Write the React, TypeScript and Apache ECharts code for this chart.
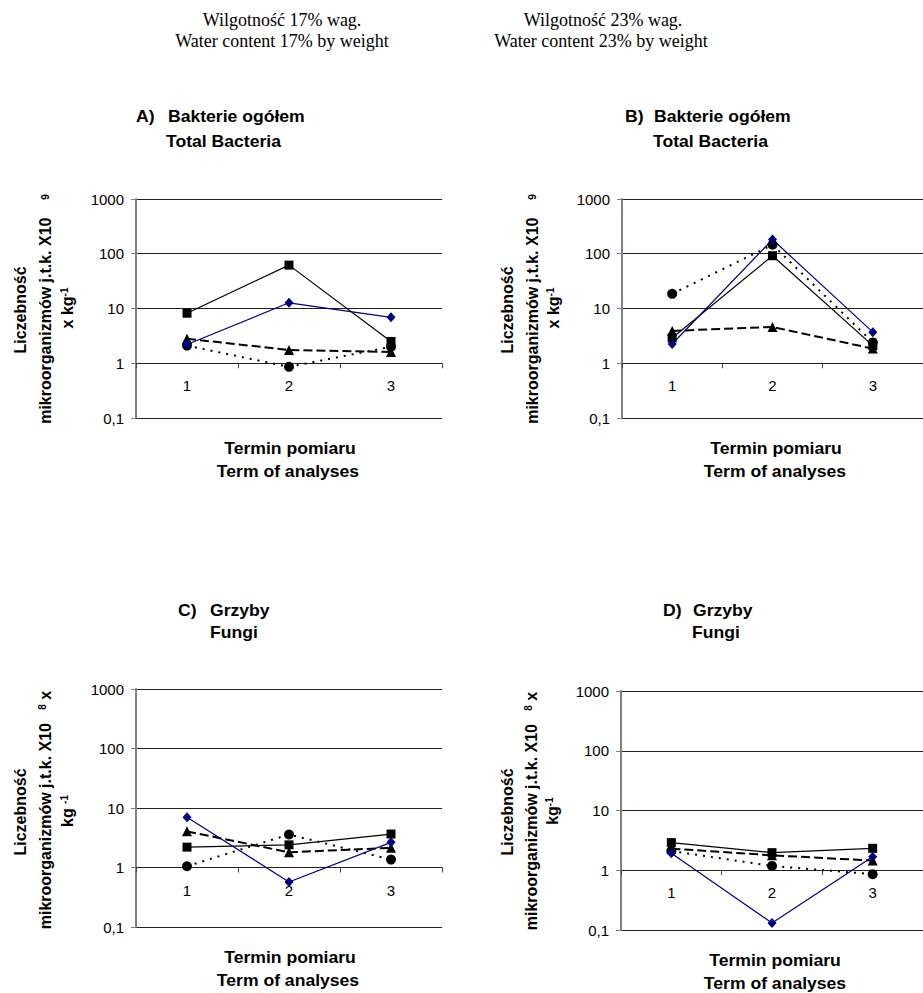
import React, { useEffect, useRef } from 'react';
import * as echarts from 'echarts';

// Terms of analysis
const categories = ['1', '2', '3'];

// A) Total bacteria, water content 17%
const aSquare = [8.2, 62, 2.5];
const aDiamond = [2.2, 12.7, 6.9];
const aTriangle = [2.8, 1.75, 1.6];
const aCircle = [2.1, 0.86, 2.0];

// B) Total bacteria, water content 23%
const bSquare = [2.9, 92, 2.1];
const bDiamond = [2.25, 182, 3.7];
const bTriangle = [3.9, 4.6, 1.85];
const bCircle = [18.5, 146, 2.4];

// C) Fungi, water content 17%
const cSquare = [2.2, 2.4, 3.65];
const cDiamond = [7.0, 0.57, 2.65];
const cTriangle = [4.05, 1.8, 2.14];
const cCircle = [1.05, 3.58, 1.36];

// D) Fungi, water content 23%
const dSquare = [2.9, 1.97, 2.33];
const dDiamond = [1.92, 0.131, 1.69];
const dTriangle = [2.3, 1.78, 1.45];
const dCircle = [2.1, 1.18, 0.86];

const sans = '"Liberation Sans", Arial, Helvetica, sans-serif';
const serif = '"Liberation Serif", "Times New Roman", serif';

const grids = [
  { left: 136, top: 199, width: 306, height: 219 },
  { left: 622, top: 199, width: 306, height: 219 },
  { left: 136, top: 689, width: 306, height: 238 },
  { left: 621, top: 691, width: 306, height: 239 },
];

function makeSeries(i: number, sq: number[], di: number[], tr: number[], ci: number[]) {
  const base = { type: 'line', xAxisIndex: i, yAxisIndex: i, showSymbol: true, z: 3 };
  return [
    {
      ...base,
      name: 'circle',
      data: ci,
      symbol: 'circle',
      symbolSize: 10,
      itemStyle: { color: '#000' },
      lineStyle: { color: '#000', width: 2, type: [2, 6] },
    },
    {
      ...base,
      name: 'triangle',
      data: tr,
      symbol: 'triangle',
      symbolSize: 10,
      itemStyle: { color: '#000' },
      lineStyle: { color: '#000', width: 2, type: [9, 4] },
    },
    {
      ...base,
      name: 'square',
      data: sq,
      symbol: 'rect',
      symbolSize: 9,
      itemStyle: { color: '#000' },
      lineStyle: { color: '#000', width: 1.2, type: 'solid' },
    },
    {
      ...base,
      name: 'diamond',
      data: di,
      symbol: 'diamond',
      symbolSize: [9, 10],
      itemStyle: { color: '#000080' },
      lineStyle: { color: '#000080', width: 1.2, type: 'solid' },
    },
  ];
}

function htext(x: number, y: number, text: string, align: string = 'left', fontSize = 16) {
  return {
    type: 'text',
    x,
    y,
    scaleX: 1.1,
    style: {
      text,
      fontSize,
      fontWeight: 'bold',
      fontFamily: sans,
      fill: '#000',
      align,
      verticalAlign: 'middle',
    },
  };
}

function vtext(x: number, y: number, text: string) {
  return {
    type: 'text',
    x,
    y,
    rotation: Math.PI / 2,
    style: {
      text,
      fontFamily: sans,
      fill: '#000',
      align: 'center',
      verticalAlign: 'middle',
      rich: {
        m: { fontSize: 16, fontWeight: 'bold', fontFamily: sans, fill: '#000' },
        s: { fontSize: 10, fontWeight: 'bold', fontFamily: sans, fill: '#000', verticalAlign: 'top' },
        n: { fontSize: 10, fontWeight: 'bold', fontFamily: sans, fill: '#000', verticalAlign: 'middle' },
      },
    },
  };
}

function serifText(x: number, y: number, text: string) {
  return {
    type: 'text',
    x,
    y,
    style: {
      text,
      fontSize: 18,
      fontFamily: serif,
      fill: '#000',
      align: 'center',
      verticalAlign: 'middle',
    },
  };
}

function yLabel(v: number) {
  return String(Number(v.toPrecision(6))).replace('.', ',');
}

export default function App() {
  const ref = useRef<HTMLDivElement>(null);
  useEffect(() => {
    if (!ref.current) return;
    const chart = echarts.init(ref.current, null, { renderer: 'svg' });
    const option: any = {
      animation: false,
      backgroundColor: '#fff',
      grid: grids.map((g) => ({ ...g, containLabel: false })),
      xAxis: grids.map((g, i) => ({
        type: 'category',
        gridIndex: i,
        data: categories,
        boundaryGap: true,
        offset: -g.height / 4,
        axisLine: { show: true, onZero: false, lineStyle: { color: '#222', width: 1 } },
        axisTick: { show: true, length: 5, lineStyle: { color: '#444' } },
        axisLabel: { fontSize: 15, color: '#000', fontFamily: sans, margin: 15 },
        splitLine: { show: false },
      })),
      yAxis: grids.map((g, i) => ({
        type: 'log',
        logBase: 10,
        gridIndex: i,
        min: 0.1,
        max: 1000,
        axisLine: { show: true, lineStyle: { color: '#808080', width: 2 } },
        axisTick: { show: true, length: 5, lineStyle: { color: '#808080' } },
        axisLabel: { fontSize: 15, color: '#000', fontFamily: sans, margin: 12, formatter: yLabel },
        splitLine: { show: true, lineStyle: { color: '#222', width: 1 } },
      })),
      series: [
        ...makeSeries(0, aSquare, aDiamond, aTriangle, aCircle),
        ...makeSeries(1, bSquare, bDiamond, bTriangle, bCircle),
        ...makeSeries(2, cSquare, cDiamond, cTriangle, cCircle),
        ...makeSeries(3, dSquare, dDiamond, dTriangle, dCircle),
      ],
      graphic: [
        serifText(282, 20, 'Wilgotność 17% wag.'),
        serifText(282, 41, 'Water content 17% by weight'),
        serifText(603, 20, 'Wilgotność 23% wag.'),
        serifText(601, 41, 'Water content 23% by weight'),

        htext(136, 117, 'A)'),
        htext(168, 117, 'Bakterie ogółem'),
        htext(166, 142, 'Total Bacteria'),
        htext(625, 117, 'B)'),
        htext(654, 117, 'Bakterie ogółem'),
        htext(653, 142, 'Total Bacteria'),
        htext(178, 611, 'C)'),
        htext(210, 611, 'Grzyby'),
        htext(210, 633, 'Fungi'),
        htext(663, 611, 'D)'),
        htext(693, 611, 'Grzyby'),
        htext(692, 633, 'Fungi'),

        htext(290, 449, 'Termin pomiaru', 'center'),
        htext(288, 472, 'Term of analyses', 'center'),
        htext(776, 449, 'Termin pomiaru', 'center'),
        htext(775, 472, 'Term of analyses', 'center'),
        htext(290, 958, 'Termin pomiaru', 'center'),
        htext(288, 981, 'Term of analyses', 'center'),
        htext(775, 961, 'Termin pomiaru', 'center'),
        htext(775, 984, 'Term of analyses', 'center'),

        vtext(20, 310, '{m|Liczebność}'),
        vtext(45, 309, '{m|mikroorganizmów j.t.k. X10    }{n|9}'),
        vtext(67, 308, '{m|x kg}{s|-1}'),
        vtext(507, 310, '{m|Liczebność}'),
        vtext(532, 309, '{m|mikroorganizmów j.t.k. X10    }{n|9}'),
        vtext(553, 308, '{m|x kg}{s|-1}'),
        vtext(20, 812, '{m|Liczebność}'),
        vtext(45, 810, '{m|mikroorganizmów j.t.k. X10   }{s|8}{m| x}'),
        vtext(67, 811, '{m|kg }{s|-1}'),
        vtext(507, 812, '{m|Liczebność}'),
        vtext(531, 811, '{m|mikroorganizmów j.t.k. X10   }{s|8}{m| x}'),
        vtext(552, 811, '{m|kg}{s|-1}'),
      ],
    };
    chart.setOption(option);
    return () => chart.dispose();
  }, []);
  return (
    <div
      ref={ref}
      style={{ position: 'absolute', left: 0, top: 0, width: 923, height: 993, background: '#fff' }}
    />
  );
}
